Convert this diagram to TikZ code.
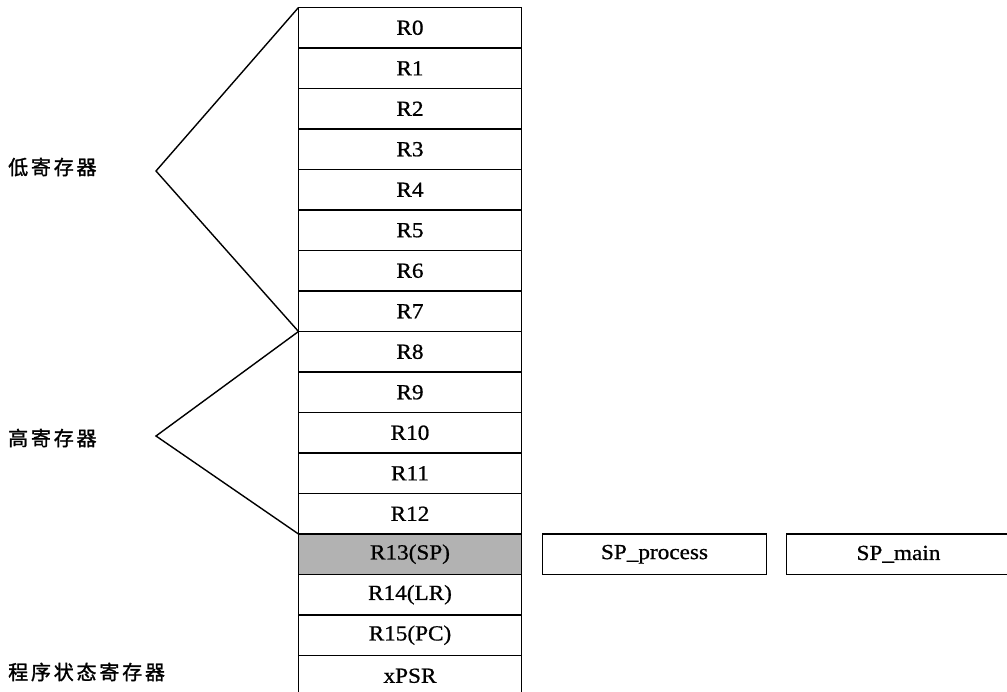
\documentclass[tikz,border=0pt]{standalone}
\usepackage{fontspec}
\setmainfont[FakeStretch=1.08,FakeBold=0.8]{Liberation Serif}
\newfontfamily\cjk[LetterSpace=14,FakeBold=1.4]{Noto Sans CJK SC}
\usetikzlibrary{positioning}

\begin{document}
\begin{tikzpicture}[
		x=1pt, y=-1pt,
		reg/.style={
			draw, rectangle,
			line width=1.8pt,
			outer sep=0pt,
			minimum width=223pt,
			minimum height=40.5pt,
			font=\fontsize{21.5}{24}\selectfont
		},
		spreg/.style={reg, fill=black!30},
		spbox/.style={reg, minimum width=224pt},
		grouplbl/.style={anchor=west, inner sep=0pt, font=\cjk\fontsize{20}{24}\selectfont},
		brace/.style={draw, line width=1.4pt}
		]
		\useasboundingbox (0,0) rectangle (1007,692);
		
		% register column
		\node[reg] (r0) at (410,27.75) {R0};
		\node[reg, below=0pt of r0] (r1) {R1};
		\node[reg, below=0pt of r1] (r2) {R2};
		\node[reg, below=0pt of r2] (r3) {R3};
		\node[reg, below=0pt of r3] (r4) {R4};
		\node[reg, below=0pt of r4] (r5) {R5};
		\node[reg, below=0pt of r5] (r6) {R6};
		\node[reg, below=0pt of r6] (r7) {R7};
		\node[reg, below=0pt of r7] (r8) {R8};
		\node[reg, below=0pt of r8] (r9) {R9};
		\node[reg, below=0pt of r9] (r10) {R10};
		\node[reg, below=0pt of r10] (r11) {R11};
		\node[reg, below=0pt of r11] (r12) {R12};
		\node[spreg, below=0pt of r12] (r13) {R13(SP)};
		\node[reg, below=0pt of r13] (r14) {R14(LR)};
		\node[reg, below=0pt of r14] (r15) {R15(PC)};
		\node[reg, below=0pt of r15] (xpsr) {xPSR};
		
		% banked stack pointers
		\node[spbox, right=21pt of r13] (spproc) {SP\_process};
		\node[spbox, right=20pt of spproc] (spmain) {SP\_main};
		
		% groups
		\coordinate (lowtip) at (156,171);
		\coordinate (hightip) at (156,436);
		\draw[brace] (r0.north west) -- (lowtip) -- (r7.south west);
		\draw[brace] (r8.north west) -- (hightip) -- (r12.south west);
		
		\node[grouplbl] (lowlbl) at (8,167) {低寄存器};
		\node[grouplbl] (highlbl) at (8,438) {高寄存器};
		\node[grouplbl] (psrlbl) at (8,672) {程序状态寄存器};
	\end{tikzpicture}
\end{document}
